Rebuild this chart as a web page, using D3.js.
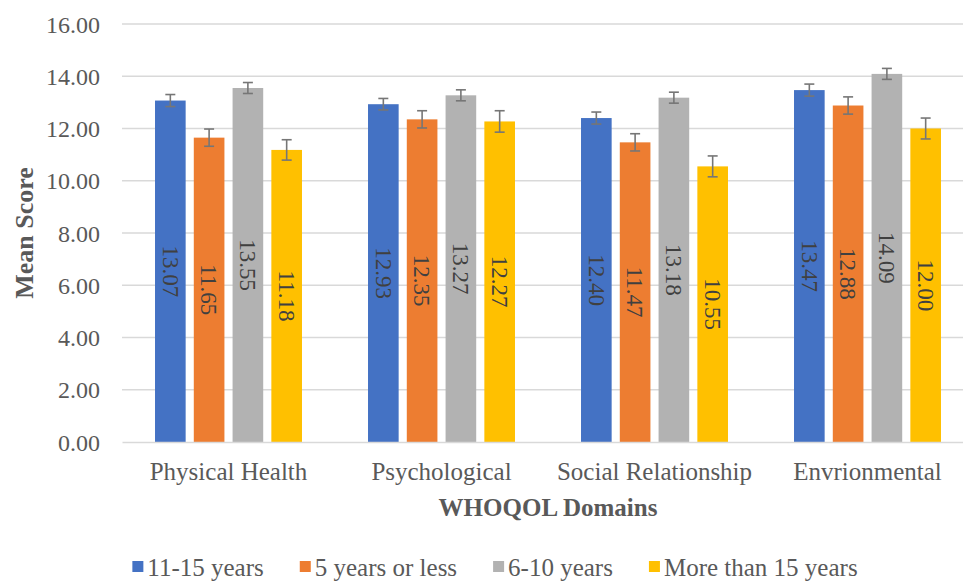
<!DOCTYPE html>
<html>
<head>
<meta charset="utf-8">
<script src="https://cdn.jsdelivr.net/npm/d3@7"></script>
<style>
  html, body { margin: 0; padding: 0; background: #fff; }
  svg { display: block; }
</style>
</head>
<body>
<svg id="chart" width="963" height="581" font-family="'Liberation Serif'"></svg>
<script>
const categories = ["Physical Health", "Psychological", "Social Relationship", "Envrionmental"];
const seriesNames = ["11-15 years", "5 years or less", "6-10 years", "More than 15 years"];
const seriesColors = ["#4472C4", "#ED7D31", "#B2B2B2", "#FFC000"];
const values_11_15 = [13.07, 12.93, 12.40, 13.47];
const values_5_or_less = [11.65, 12.35, 11.47, 12.88];
const values_6_10 = [13.55, 13.27, 13.18, 14.09];
const values_more_15 = [11.18, 12.27, 10.55, 12.00];
const errors_11_15 = [0.23, 0.22, 0.23, 0.23];
const errors_5_or_less = [0.33, 0.33, 0.33, 0.33];
const errors_6_10 = [0.21, 0.21, 0.21, 0.21];
const errors_more_15 = [0.39, 0.41, 0.40, 0.40];
const yTicks = [0, 2, 4, 6, 8, 10, 12, 14, 16];
const yTitle = "Mean Score";
const xTitle = "WHOQOL Domains";

const FONT = "'Liberation Serif', 'Times New Roman', serif";
const allValues = [values_11_15, values_5_or_less, values_6_10, values_more_15];
const allErrors = [errors_11_15, errors_5_or_less, errors_6_10, errors_more_15];

const data = [];
categories.forEach((c, ci) => {
  seriesNames.forEach((s, si) => {
    data.push({ cat: c, ser: s, si: si, v: allValues[si][ci], e: allErrors[si][ci] });
  });
});

const svg = d3.select("#chart");
const plotLeft = 122, plotRight = 974, plotTop = 24, plotBottom = 442;

const x0 = d3.scaleBand().domain(categories).range([plotLeft, plotRight]).paddingInner(0.31).paddingOuter(0.155);
const x1 = d3.scaleBand().domain(seriesNames).range([0, x0.bandwidth()]).paddingInner(0.21);
const y = d3.scaleLinear().domain([0, 16]).range([plotBottom, plotTop]);

// gridlines
svg.append("g").selectAll("line").data(yTicks.filter(d => d > 0)).join("line")
  .attr("x1", plotLeft).attr("x2", 963)
  .attr("y1", d => y(d)).attr("y2", d => y(d))
  .attr("stroke", "#D9D9D9").attr("stroke-width", 1.5);

// y axis labels
const yAxis = svg.append("g").attr("transform", `translate(100,0)`)
  .call(d3.axisLeft(y).tickValues(yTicks).tickFormat(d3.format(".2f")).tickSize(0).tickPadding(0));
yAxis.attr("font-family", FONT);
yAxis.select(".domain").remove();
yAxis.selectAll("text").attr("font-size", 24).attr("fill", "#595959").attr("dy", "0.34em");

// bars
svg.append("g").selectAll("rect").data(data).join("rect")
  .attr("x", d => x0(d.cat) + x1(d.ser))
  .attr("width", x1.bandwidth())
  .attr("y", d => y(d.v))
  .attr("height", d => y(0) - y(d.v))
  .attr("fill", d => seriesColors[d.si]);

// x axis
const xAxis = svg.append("g").attr("transform", `translate(0,${plotBottom})`)
  .call(d3.axisBottom(x0).tickSize(0).tickPadding(20));
xAxis.attr("font-family", FONT);
xAxis.select(".domain").attr("stroke", "#D9D9D9").attr("stroke-width", 1.5);
xAxis.selectAll("text").attr("font-size", 25).attr("fill", "#595959");

// error bars
const eb = svg.append("g").attr("stroke", "#767676").attr("stroke-width", 1.6).attr("fill", "none");
data.forEach(d => {
  const cx = x0(d.cat) + x1(d.ser) + x1.bandwidth() / 2;
  const yt = y(d.v + d.e), yb = y(d.v - d.e);
  eb.append("line").attr("x1", cx).attr("x2", cx).attr("y1", yt).attr("y2", yb);
  eb.append("line").attr("x1", cx - 5).attr("x2", cx + 5).attr("y1", yt).attr("y2", yt);
  eb.append("line").attr("x1", cx - 5).attr("x2", cx + 5).attr("y1", yb).attr("y2", yb);
});

// value labels (rotated)
svg.append("g").attr("font-family", FONT).selectAll("text").data(data).join("text")
  .attr("transform", d => {
    const cx = x0(d.cat) + x1(d.ser) + x1.bandwidth() / 2;
    const cy = (y(d.v) + y(0)) / 2;
    return `translate(${cx},${cy}) rotate(90)`;
  })
  .attr("text-anchor", "middle").attr("dy", "0.34em")
  .attr("font-size", 23).attr("fill", "#404040")
  .text(d => d.v.toFixed(2));

// axis titles
svg.append("text").attr("transform", `translate(33,${(plotTop + plotBottom) / 2}) rotate(-90)`)
  .attr("font-family", FONT)
  .attr("text-anchor", "middle").attr("font-size", 26).attr("font-weight", "bold").attr("fill", "#595959")
  .text(yTitle);
svg.append("text").attr("x", (plotLeft + plotRight) / 2).attr("y", 516)
  .attr("font-family", FONT)
  .attr("text-anchor", "middle").attr("font-size", 25).attr("font-weight", "bold").attr("fill", "#595959")
  .text(xTitle);

// legend
const legend = svg.append("g").attr("font-family", FONT);
const items = legend.selectAll("g").data(seriesNames).join("g");
items.append("rect").attr("width", 11).attr("height", 11).attr("y", -15)
  .attr("fill", (d, i) => seriesColors[i]);
items.append("text").attr("x", 15).attr("font-size", 25).attr("fill", "#595959").text(d => d);
let widths = [];
items.each(function () { widths.push(15 + this.querySelector("text").getComputedTextLength()); });
const gap = 36;
const total = d3.sum(widths) + gap * (widths.length - 1);
let cur = 495 - total / 2;
items.attr("transform", (d, i) => { const t = `translate(${cur},576)`; cur += widths[i] + gap; return t; });
</script>
</body>
</html>
